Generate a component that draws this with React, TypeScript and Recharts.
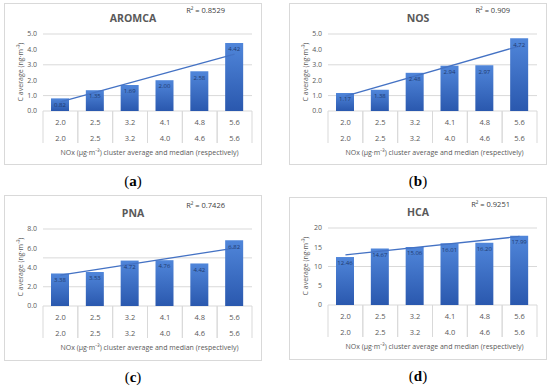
import { ComposedChart, Bar, XAxis, YAxis, CartesianGrid, LabelList, ReferenceLine } from "recharts";

// NOx cluster average (x axis categories) and median (second table row)
const noxAverage = ["2.0", "2.5", "3.2", "4.1", "4.8", "5.6"];
const noxMedian = ["2.0", "2.5", "3.2", "4.0", "4.6", "5.6"];

const aromca = [0.82, 1.35, 1.69, 2.0, 2.58, 4.42];
const nos = [1.17, 1.38, 2.48, 2.94, 2.97, 4.72];
const pna = [3.38, 3.53, 4.72, 4.76, 4.42, 6.82];
const hca = [12.46, 14.67, 15.06, 16.01, 16.2, 17.99];

// linear trendline, value at first and last category
const aromcaTrend = [0.6, 3.7];
const nosTrend = [0.97, 4.22];
const pnaTrend = [3.2, 6.02];
const hcaTrend = [13.0, 17.8];

const oneDecimalTicks5 = [0, 1, 2, 3, 4, 5];
const oneDecimalTicks8 = [0, 1, 2, 3, 4, 5, 6, 7, 8];
const hcaTicks = [0, 5, 10, 15, 20];

const FONT = "'Open Sans', sans-serif";
const GREY = "#595959";
const BOX_W = 258;
const PLOT_LEFT = 38;
const PLOT_W = 209;
const PLOT_H = 77;
const BAND = PLOT_W / 6;

interface PanelProps {
  title: string;
  r2: string;
  values: number[];
  trend: number[];
  ticks: number[];
  decimals: number;
  left: number;
  top: number;
  height: number;
  dy: number;
  letter: string;
  id: string;
}

function TableTick(props: any) {
  const { x, y, index, payload } = props;
  const half = BAND / 2;
  return (
    <g>
      <line x1={x - half} x2={x - half} y1={y} y2={y + 32} stroke="#d9d9d9" strokeWidth={1} />
      <line x1={x + half} x2={x + half} y1={y} y2={y + 32} stroke="#d9d9d9" strokeWidth={1} />
      <text x={x} y={y + 14} textAnchor="middle" fontSize={7.5} fill={GREY} fontFamily={FONT}>
        {payload.value}
      </text>
      <text x={x} y={y + 30} textAnchor="middle" fontSize={7.5} fill={GREY} fontFamily={FONT}>
        {noxMedian[index]}
      </text>
    </g>
  );
}

function Panel({ title, r2, values, trend, ticks, decimals, left, top, height, dy, letter, id }: PanelProps) {
  const data = noxAverage.map((avg, i) => ({ avg, value: values[i] }));
  const innerH = height - 2;
  const plotTop = 30 + dy;
  const xAxisH = innerH - plotTop - PLOT_H;
  const plotBottom = plotTop + PLOT_H + 1;
  const max = ticks[ticks.length - 1];

  return (
    <>
      <div
        style={{
          position: "absolute",
          left,
          top,
          width: BOX_W,
          height,
          boxSizing: "border-box",
          border: "1px solid #d9d9d9",
          background: "#fff",
          fontFamily: FONT,
          color: GREY,
        }}
      >
        <div
          style={{
            position: "absolute",
            left: 0,
            width: BOX_W - 2,
            top: 14 + dy,
            transform: "translateY(-50%)",
            textAlign: "center",
            fontWeight: 700,
            fontSize: 10.5,
            lineHeight: 1,
          }}
        >
          {title}
        </div>
        <div
          style={{
            position: "absolute",
            right: BOX_W - 222,
            top: 7 + dy,
            transform: "translateY(-50%)",
            fontSize: 7.5,
            lineHeight: 1,
            color: "#404040",
            whiteSpace: "nowrap",
          }}
        >
          {r2}
        </div>
        <div
          style={{
            position: "absolute",
            left: 15,
            top: 68 + dy,
            transform: "translate(-50%, -50%) rotate(-90deg)",
            fontSize: 7,
            lineHeight: 1,
            whiteSpace: "nowrap",
          }}
        >
          C average (ng·m⁻³)
        </div>
        <div
          style={{
            position: "absolute",
            left: PLOT_LEFT,
            width: PLOT_W + 4,
            top: plotBottom + 40,
            transform: "translateY(-50%)",
            textAlign: "center",
            fontSize: 7,
            lineHeight: 1,
            whiteSpace: "nowrap",
          }}
        >
          NOx (μg·m⁻³) cluster average and median (respectively)
        </div>
        <ComposedChart
          width={BOX_W - 2}
          height={innerH}
          data={data}
          margin={{ top: plotTop, right: BOX_W - 2 - PLOT_LEFT - PLOT_W, left: 0, bottom: 0 }}
          style={{ position: "absolute", left: 0, top: 0 }}
        >
          <defs>
            <linearGradient id={`bar-${id}`} x1="0" y1="0" x2="0" y2="1">
              <stop offset="0%" stopColor="#5086da" />
              <stop offset="100%" stopColor="#2a58ae" />
            </linearGradient>
          </defs>
          <CartesianGrid vertical={false} stroke="#d9d9d9" />
          <XAxis
            dataKey="avg"
            height={xAxisH}
            axisLine={false}
            tickLine={false}
            tickSize={0}
            tickMargin={0}
            interval={0}
            tick={TableTick}
          />
          <YAxis
            width={PLOT_LEFT}
            domain={[0, max]}
            ticks={ticks}
            axisLine={false}
            tickLine={false}
            tickMargin={0}
            tickFormatter={(v: number) => v.toFixed(decimals)}
            tick={{ fontSize: 7, fill: GREY, fontFamily: FONT }}
          />
          <Bar dataKey="value" barSize={18} fill={`url(#bar-${id})`} isAnimationActive={false}>
            <LabelList
              dataKey="value"
              position="insideTop"
              offset={4}
              fontSize={6}
              fill="#1f3a6e"
              fontFamily={FONT}
              formatter={(v: any) => Number(v).toFixed(2)}
            />
          </Bar>
          <ReferenceLine
            segment={[
              { x: noxAverage[0], y: trend[0] },
              { x: noxAverage[noxAverage.length - 1], y: trend[1] },
            ]}
            stroke="#4472c4"
            strokeWidth={1.3}
          />
        </ComposedChart>
      </div>
      <div
        style={{
          position: "absolute",
          left: left + BOX_W / 2,
          top: top + height + 16,
          transform: "translate(-50%, -50%)",
          fontFamily: "'Liberation Serif', serif",
          fontSize: 15,
          color: "#000",
          lineHeight: 1,
        }}
      >
        (<b>{letter}</b>)
      </div>
    </>
  );
}

export default function App() {
  return (
    <div style={{ position: "absolute", left: 0, top: 0, width: 550, height: 389, background: "#fff" }}>
      <Panel id="a" title="AROMCA" r2="R² = 0.8529" values={aromca} trend={aromcaTrend} ticks={oneDecimalTicks5} decimals={1} left={4} top={3} height={162} dy={0} letter="a" />
      <Panel id="b" title="NOS" r2="R² = 0.909" values={nos} trend={nosTrend} ticks={oneDecimalTicks5} decimals={1} left={289} top={3} height={162} dy={0} letter="b" />
      <Panel id="c" title="PNA" r2="R² = 0.7426" values={pna} trend={pnaTrend} ticks={oneDecimalTicks8} decimals={1} left={4} top={195} height={166} dy={3} letter="c" />
      <Panel id="d" title="HCA" r2="R² = 0.9251" values={hca} trend={hcaTrend} ticks={hcaTicks} decimals={0} left={289} top={197} height={163} dy={0} letter="d" />
    </div>
  );
}
